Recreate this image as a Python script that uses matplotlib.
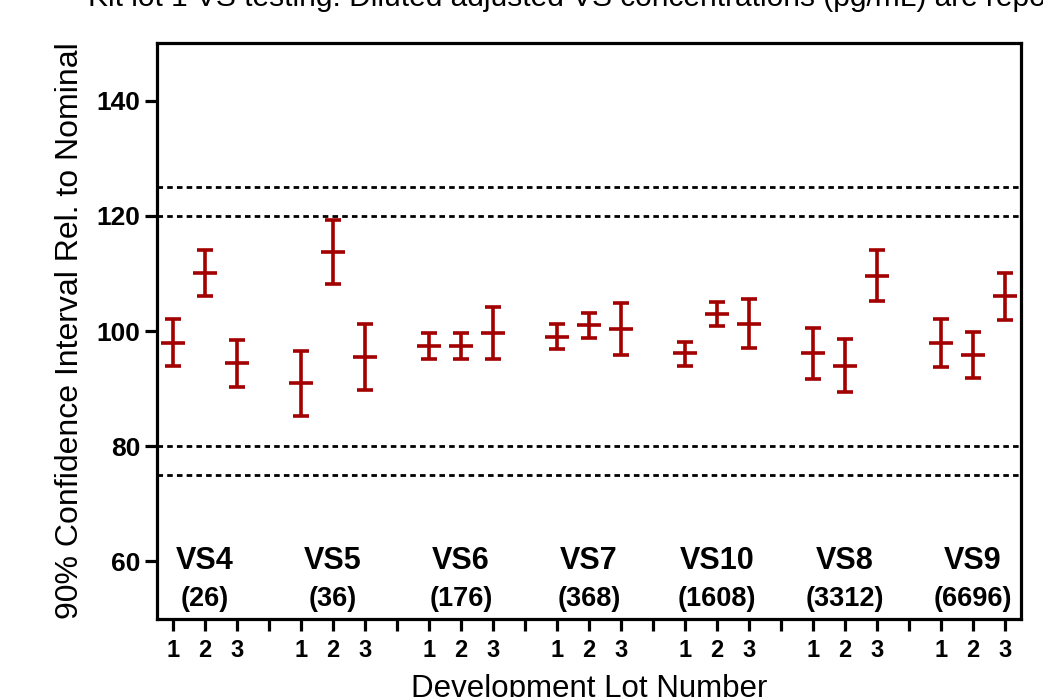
import matplotlib.pyplot as plt
import numpy as np

plt.rcParams['font.family'] = ['Liberation Sans', 'DejaVu Sans']

# lot groups (VS level and nominal concentration)
gruppi = ['VS4', 'VS5', 'VS6', 'VS7', 'VS10', 'VS8', 'VS9']
nominali = ['(26)', '(36)', '(176)', '(368)', '(1608)', '(3312)', '(6696)']
lotti = ['1', '2', '3']

# point estimate and 90% CI (% of nominal), 3 lots per group
centro = [98.0, 110.0, 94.4,
          90.9, 113.7, 95.5,
          97.4, 97.4, 99.6,
          99.0, 101.0, 100.4,
          96.1, 103.0, 101.3,
          96.1, 94.0, 109.6,
          97.9, 95.8, 106.0]
basso = [94.0, 106.0, 90.3,
         85.2, 108.1, 89.7,
         95.1, 95.1, 95.1,
         96.8, 98.8, 95.8,
         94.0, 100.9, 97.1,
         91.7, 89.4, 105.2,
         93.8, 91.8, 101.9]
alto = [102.0, 114.1, 98.4,
        96.6, 119.3, 101.2,
        99.6, 99.6, 104.1,
        101.2, 103.2, 104.9,
        98.1, 105.0, 105.6,
        100.6, 98.6, 114.1,
        102.0, 99.9, 110.0]

limiti = [75, 80, 120, 125]

rosso = '#a30000'

fig = plt.figure(figsize=(10.43, 6.97), dpi=100)
ax = fig.add_axes([0.1505, 0.1119, 0.8284, 0.8264])

# x positions: 3 lots then an empty slot between groups
pos = []
for g in range(len(gruppi)):
    for j in range(3):
        pos.append(g * 4 + j)
pos = np.array(pos)
centro = np.array(centro)
err = [centro - np.array(basso), np.array(alto) - centro]

for y in limiti:
    ax.axhline(y, color='black', lw=2.0, ls=(0, (2.0, 1.5)), zorder=1)

ax.errorbar(pos, centro, yerr=err, fmt='none', ecolor=rosso, elinewidth=2.6,
            capsize=5.5, capthick=2.6, zorder=3)
ax.plot(pos, centro, ls='none', marker='_', ms=17, mew=2.6, color=rosso, zorder=3)

for g, (nome, nom) in enumerate(zip(gruppi, nominali)):
    xc = g * 4 + 1
    ax.text(xc, 60.0, nome, ha='center', va='center', fontsize=22, fontweight='bold')
    ax.text(xc, 53.4, nom, ha='center', va='center', fontsize=19.5, fontweight='bold')

ax.set_xlim(-0.5, 26.5)
ax.set_ylim(50, 150)
ax.set_yticks([60, 80, 100, 120, 140])
tick_pos = np.arange(0, 27)
ax.set_xticks(tick_pos)
etichette = []
for t in tick_pos:
    etichette.append(lotti[t % 4] if t % 4 < 3 else '')
ax.set_xticklabels(etichette)

for s in ax.spines.values():
    s.set_linewidth(2.3)
ax.tick_params(axis='both', direction='out', length=8.5, width=2.3)
ax.tick_params(axis='x', pad=6, labelsize=17)
ax.tick_params(axis='y', pad=3.5, labelsize=19)
for lab in ax.get_xticklabels() + ax.get_yticklabels():
    lab.set_fontweight('bold')

ax.set_ylabel('90% Confidence Interval Rel. to Nominal', fontsize=23, labelpad=8)
fig.text(0.565, 1 - 697 / 697, 'Development Lot Number', fontsize=22.5,
         ha='center', va='baseline')

fig.text(0.084, 1 - 5.5 / 697, 'Kit lot 1 VS testing: Diluted adjusted VS concentrations (pg/mL) are reported',
         fontsize=21.5, va='baseline', ha='left')

fig.savefig('out.png', dpi=100)
